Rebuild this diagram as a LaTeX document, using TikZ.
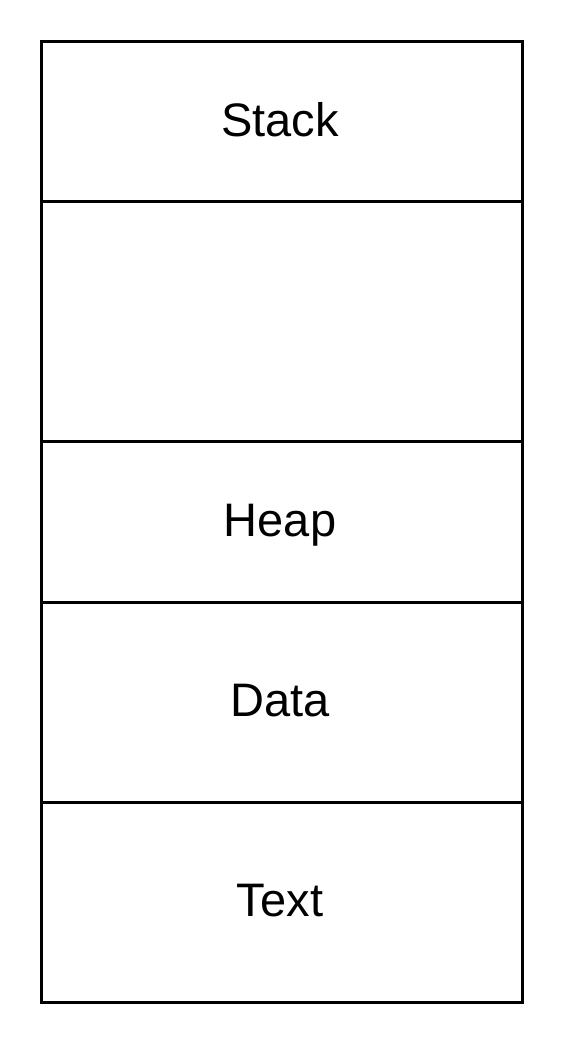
\documentclass[tikz,border=0pt]{standalone}
\usepackage{fontspec}
\setmainfont{Liberation Sans}
\begin{document}
\begin{tikzpicture}[x=1pt,y=-1pt,
  seg/.style={draw=black,line width=3pt,minimum width=481pt,inner sep=0pt,anchor=north west},
  lab/.style={font=\fontsize{47}{50}\selectfont,inner sep=0pt}]
\useasboundingbox (0,0) rectangle (564,1044);
\node[seg,minimum height=160pt] (stack) at (40,40) {};
\node[seg,minimum height=240pt] (free) at (40,200) {};
\node[seg,minimum height=161pt] (heap) at (40,440) {};
\node[seg,minimum height=200pt] (data) at (40,601) {};
\node[seg,minimum height=200pt] (text) at (40,801) {};
\node[lab] (stackl) at ([xshift=-2pt,yshift=2pt]stack.center) {Stack};
\node[lab] (heapl) at ([xshift=-2pt,yshift=-3pt]heap.center) {Heap};
\node[lab] (datal) at ([xshift=-2pt,yshift=2pt]data.center) {Data};
\node[lab] (textl) at ([xshift=-2pt,yshift=2pt]text.center) {Text};
\end{tikzpicture}
\end{document}
